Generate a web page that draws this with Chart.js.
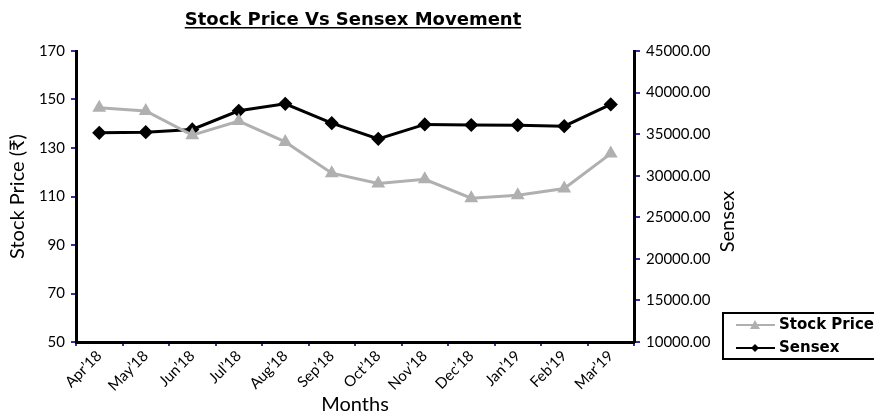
<!DOCTYPE html>
<html>
<head>
<meta charset="utf-8">
<script src="https://cdn.jsdelivr.net/npm/chart.js@4.4.0/dist/chart.umd.min.js"></script>
<style>
html, body { margin: 0; padding: 0; background: #fff; }
</style>
</head>
<body>
<canvas id="stockChart" width="874" height="415"></canvas>
<script>
// values
const months = ['Apr’18', 'May’18', 'Jun’18', 'Jul’18', 'Aug’18', 'Sep’18',
                'Oct’18', 'Nov’18', 'Dec’18', 'Jan’19', 'Feb’19', 'Mar’19'];
const stockPrice = [146.6, 145.3, 135.3, 141.1, 132.5, 119.6, 115.4, 117.1, 109.3, 110.5, 113.3, 127.7];
const sensex = [35155, 35240, 35565, 37806, 38650, 36324, 34432, 36167, 36100, 36083, 35963, 38577];
const priceTicks = [50, 70, 90, 110, 130, 150, 170];
const sensexTicks = [10000, 15000, 20000, 25000, 30000, 35000, 40000, 45000];

const FONT = "Lato, 'DejaVu Sans', sans-serif";
const WIDE = "'DejaVu Sans', sans-serif";
const tickColor = '#333399';

// title (underlined), right axis title and the boxed legend
const extras = {
    id: 'extras',
    afterDraw(chart) {
        const ctx = chart.ctx;
        const area = chart.chartArea;
        ctx.save();
        const title = 'Stock Price Vs Sensex Movement';
        ctx.font = 'bold 18px ' + WIDE;
        ctx.fillStyle = '#000';
        ctx.textAlign = 'center';
        ctx.textBaseline = 'alphabetic';
        ctx.fillText(title, 353, 25);
        const w = ctx.measureText(title).width;
        ctx.fillRect(353 - w / 2, 27, w, 1.5);

        // "Sensex" reads bottom to top, like the left title
        ctx.save();
        ctx.translate(728, (area.top + area.bottom) / 2 + 25);
        ctx.rotate(-Math.PI / 2);
        ctx.font = '20px ' + FONT;
        ctx.textBaseline = 'middle';
        ctx.fillText('Sensex', 0, 0);
        ctx.restore();

        // legend
        ctx.strokeStyle = '#000';
        ctx.lineWidth = 2;
        ctx.strokeRect(723, 313, 170, 46);
        const rows = [325, 348];
        chart.data.datasets.forEach((ds, i) => {
            const y = rows[i];
            ctx.strokeStyle = ds.borderColor;
            ctx.lineWidth = 2;
            ctx.beginPath();
            ctx.moveTo(736, y);
            ctx.lineTo(775, y);
            ctx.stroke();
            ctx.fillStyle = ds.pointBackgroundColor;
            ctx.beginPath();
            if (ds.pointStyle === 'triangle') {
                ctx.moveTo(755, y - 5);
                ctx.lineTo(760, y + 4);
                ctx.lineTo(750, y + 4);
            } else {
                ctx.moveTo(755, y - 4);
                ctx.lineTo(759, y);
                ctx.lineTo(755, y + 4);
                ctx.lineTo(751, y);
            }
            ctx.closePath();
            ctx.fill();
            ctx.fillStyle = '#000';
            ctx.font = 'bold 15px ' + WIDE;
            ctx.textAlign = 'left';
            ctx.textBaseline = 'middle';
            ctx.fillText(ds.label, 779, y);
        });
        ctx.restore();
    }
};

new Chart(document.getElementById('stockChart'), {
    type: 'line',
    data: {
        labels: months,
        datasets: [{
            label: 'Stock Price',
            data: stockPrice,
            yAxisID: 'yPrice',
            borderColor: '#b0b0b0',
            backgroundColor: '#b0b0b0',
            pointBackgroundColor: '#b0b0b0',
            pointBorderColor: '#b0b0b0',
            pointStyle: 'triangle',
            pointRadius: 5,
            borderWidth: 3,
            tension: 0
        }, {
            label: 'Sensex',
            data: sensex,
            yAxisID: 'ySensex',
            borderColor: '#000',
            backgroundColor: '#000',
            pointBackgroundColor: '#000',
            pointBorderColor: '#000',
            pointStyle: 'rectRot',
            pointRadius: 5,
            borderWidth: 3,
            tension: 0
        }]
    },
    options: {
        responsive: false,
        animation: false,
        maintainAspectRatio: false,
        layout: { padding: { top: 51, right: 138, bottom: 0, left: 0 } },
        plugins: {
            legend: { display: false },
            tooltip: { enabled: false }
        },
        scales: {
            x: {
                offset: true,
                grid: { offset: true, drawOnChartArea: false, color: tickColor, lineWidth: 2, tickLength: 4 },
                border: { color: '#000', width: 3 },
                ticks: {
                    color: '#000', font: { family: FONT, size: 15 },
                    maxRotation: 45, minRotation: 45, autoSkip: false, padding: 1
                },
                title: { display: true, text: 'Months', color: '#000', font: { family: FONT, size: 20 }, padding: { top: 0, bottom: -2 } },
                afterFit(scale) { scale.height = 73; }
            },
            yPrice: {
                position: 'left',
                min: 50, max: 170,
                afterBuildTicks(scale) { scale.ticks = priceTicks.map(v => ({ value: v })); },
                grid: { drawOnChartArea: false, color: tickColor, lineWidth: 2, tickLength: 5 },
                border: { color: '#000', width: 3 },
                ticks: { color: '#000', font: { family: FONT, size: 15 }, padding: 6 },
                title: { display: true, text: 'Stock Price (₹)', color: '#000', font: { family: FONT, size: 20 }, padding: { top: 6, bottom: 0 } },
                afterFit(scale) { scale.width = 76; }
            },
            ySensex: {
                position: 'right',
                min: 10000, max: 45000,
                afterBuildTicks(scale) { scale.ticks = sensexTicks.map(v => ({ value: v })); },
                grid: { drawOnChartArea: false, color: tickColor, lineWidth: 2, tickLength: 6 },
                border: { color: '#000', width: 3 },
                ticks: { color: '#000', font: { family: FONT, size: 15 }, padding: 6,
                         callback: v => Number(v).toFixed(2) },
                afterFit(scale) { scale.width = 102; }
            }
        }
    },
    plugins: [extras]
});
</script>
</body>
</html>
